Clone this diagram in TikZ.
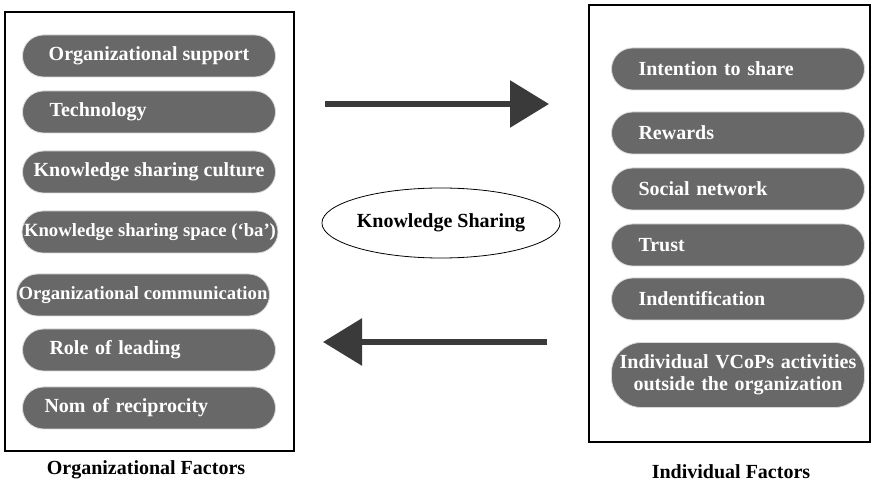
\documentclass[tikz,border=0pt]{standalone}
\usepackage{fontspec}
\setmainfont{Liberation Serif}
\usetikzlibrary{arrows.meta,shapes.geometric}

\definecolor{pillgray}{HTML}{686868}
\definecolor{arrowgray}{HTML}{3A3A3A}

\tikzset{
    pill/.style={fill=pillgray, draw=gray!30, line width=0.8pt, rounded corners=21pt,
        minimum width=253pt, minimum height=42pt, inner xsep=2pt, text=white,
        font=\fontsize{20}{22}\selectfont\bfseries},
    pillleft/.style={pill, text width=199pt, inner xsep=27pt, align=left},
    pillnarrow/.style={pill, font=\fontsize{18.7}{20}\selectfont\bfseries},
    bigarrow/.style={arrowgray, line width=6pt, -{Triangle[length=39pt, width=46pt]}},
    caption/.style={font=\fontsize{20}{22}\selectfont\bfseries}
}

\begin{document}
\begin{tikzpicture}[x=1pt, y=-1pt]
    \useasboundingbox (0,0) rectangle (871,486);

    % Frames of the two factor groups
    \draw[line width=1.4pt] (5,12) rectangle (294,451);
    \draw[line width=1.4pt] (589,5) rectangle (870,442);

    % Organizational factors
    \node[pill] (orgsupport) at (149,56) {Organizational support};
    \node[pillleft] (technology) at (149,112) {Technology};
    \node[pill] (culture) at (149,172) {Knowledge sharing culture};
    \node[pillnarrow] (space) at (150,232) {Knowledge sharing space (‘ba’)};
    \node[pillnarrow] (communication) at (143,295) {Organizational communication};
    \node[pillleft] (leading) at (149,350) {Role of leading};
    \node[pillleft, inner xsep=22pt, text width=209pt] (reciprocity) at (149,408) {Nom of reciprocity};

    % Individual factors
    \node[pillleft] (intention) at (738,69) {Intention to share};
    \node[pillleft] (rewards) at (738,133) {Rewards};
    \node[pillleft] (network) at (738,189) {Social network};
    \node[pillleft] (trust) at (738,245) {Trust};
    \node[pillleft] (identification) at (738,299) {Indentification};
    \node[pill, minimum height=65pt, rounded corners=30pt, align=center, text width=245pt]
        (vcops) at (738,375) {Individual VCoPs activities\\outside the organization};

    % Knowledge sharing in the middle
    \node[draw, ellipse, line width=0.8pt, inner sep=0pt, minimum width=234pt, minimum height=70pt,
        font=\fontsize{20}{22}\selectfont\bfseries] (sharing) at (441,223) {Knowledge Sharing};

    % Arrows between the groups
    \coordinate (topstart) at (325,104);
    \coordinate (topend) at (549,104);
    \coordinate (botstart) at (547,342);
    \coordinate (botend) at (323,342);
    \draw[bigarrow] (topstart) -- (topend);
    \draw[bigarrow] (botstart) -- (botend);

    % Captions
    \node[caption] (orglabel) at (146,470) {Organizational Factors};
    \node[caption] (indlabel) at (731,472) {Individual Factors};

\end{tikzpicture}
\end{document}
